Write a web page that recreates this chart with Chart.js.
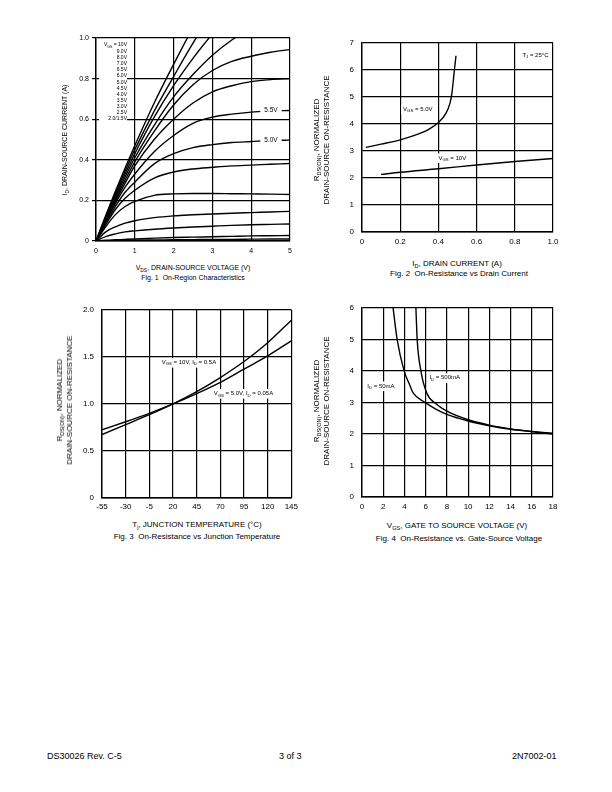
<!DOCTYPE html>
<html>
<head>
<meta charset="utf-8">
<script src="https://cdn.jsdelivr.net/npm/chart.js@4"></script>
<style>
  body { margin: 0; width: 612px; height: 792px; position: relative; background: #fff; color: #000;
         font-family: "Liberation Sans", Arial, sans-serif; }
  canvas { position: absolute; }
  .t { position: absolute; white-space: nowrap; transform: translate(-50%, -50%); font-size: 8px; }
  .v { position: absolute; white-space: nowrap; transform: translate(-50%, -50%) rotate(-90deg);
       font-size: 8px; line-height: 10px; text-align: center; }
  sub { font-size: 70%; vertical-align: -2px; line-height: 0; }
  .legend { position: absolute; left: 99px; top: 41px; width: 28px; height: 84px; background: #fff;
            font-size: 5px; line-height: 6.1px; text-align: right; }
  .foot { position: absolute; top: 751px; font-size: 9px; }
</style>
</head>
<body>

<canvas id="fig1" width="234" height="228" style="left:66px;top:28px"></canvas>
<canvas id="fig2" width="236" height="220" style="left:328px;top:30px"></canvas>
<canvas id="fig3" width="240" height="220" style="left:62px;top:297px"></canvas>
<canvas id="fig4" width="236" height="220" style="left:328px;top:295px"></canvas>

<div class="legend">
  <div style="margin-bottom:1px">V<sub>GS</sub> = 10V</div>
  <div>9.0V</div><div>8.0V</div><div>7.0V</div><div>6.5V</div><div>6.0V</div><div>5.0V</div>
  <div>4.5V</div><div>4.0V</div><div>3.5V</div><div>3.0V</div><div>2.5V</div><div>2.0/1.5V</div>
</div>

<div class="v" style="left:65px;top:140px;font-size:7px">I<sub>D</sub>, DRAIN-SOURCE CURRENT (A)</div>
<div class="t" style="left:193px;top:267px;font-size:7px">V<sub>DS</sub>, DRAIN-SOURCE VOLTAGE (V)</div>
<div class="t" style="left:193px;top:277px;font-size:7px">Fig. 1&nbsp; On-Region Characteristics</div>

<div class="v" style="left:322px;top:140px">R<sub>DS(ON)</sub>, NORMALIZED<br>DRAIN-SOURCE ON-RESISTANCE</div>
<div class="t" style="left:457px;top:263px">I<sub>D</sub>, DRAIN CURRENT (A)</div>
<div class="t" style="left:459px;top:273px">Fig. 2&nbsp; On-Resistance vs Drain Current</div>

<div class="v" style="left:65px;top:400px">R<sub>DS(ON)</sub>, NORMALIZED<br>DRAIN-SOURCE ON-RESISTANCE</div>
<div class="t" style="left:197px;top:524px">T<sub>j</sub>, JUNCTION TEMPERATURE (°C)</div>
<div class="t" style="left:197px;top:536px">Fig. 3&nbsp; On-Resistance vs Junction Temperature</div>

<div class="v" style="left:322px;top:401px">R<sub>DS(ON)</sub>, NORMALIZED<br>DRAIN-SOURCE ON-RESISTANCE</div>
<div class="t" style="left:457px;top:525px">V<sub>GS</sub>, GATE TO SOURCE VOLTAGE (V)</div>
<div class="t" style="left:459px;top:538px">Fig. 4&nbsp; On-Resistance vs. Gate-Source Voltage</div>

<div class="foot" style="left:47px">DS30026 Rev. C-5</div>
<div class="foot" style="left:279px">3 of 3</div>
<div class="foot" style="left:512px">2N7002-01</div>

<script>
// ---- Fig. 1 data: drain current (A) vs VDS (V), one array per gate voltage
const vdsValues = [0, 0.25, 0.5, 0.75, 1, 1.5, 2, 2.5, 3, 3.5, 4, 4.5, 5];
const id10V = [0, 0.125, 0.245, 0.36, 0.47, 0.68, 0.87, 1.05, 1.2, 1.3, 1.4, 1.5, 1.6];
const id9V = [0, 0.12, 0.235, 0.345, 0.45, 0.64, 0.81, 0.975, 1.12, 1.25, 1.35, 1.45, 1.55];
const id8V = [0, 0.115, 0.225, 0.33, 0.43, 0.61, 0.765, 0.9, 1.02, 1.13, 1.23, 1.32, 1.4];
const id7V = [0, 0.11, 0.215, 0.315, 0.41, 0.57, 0.71, 0.82, 0.915, 0.99, 1.05, 1.1, 1.15];
const id65V = [0, 0.105, 0.205, 0.3, 0.39, 0.54, 0.67, 0.77, 0.84, 0.885, 0.91, 0.93, 0.943];
const id6V = [0, 0.1, 0.195, 0.285, 0.37, 0.5, 0.6, 0.68, 0.735, 0.765, 0.785, 0.795, 0.8];
const id55V = [0, 0.095, 0.185, 0.265, 0.33, 0.44, 0.52, 0.58, 0.61, 0.625, 0.635, 0.64, 0.643];
const id5V = [0, 0.088, 0.17, 0.24, 0.29, 0.38, 0.43, 0.46, 0.475, 0.485, 0.49, 0.495, 0.497];
const id45V = [0, 0.08, 0.155, 0.21, 0.25, 0.31, 0.34, 0.355, 0.363, 0.37, 0.374, 0.378, 0.382];
const id4V = [0, 0.07, 0.13, 0.17, 0.195, 0.225, 0.232, 0.234, 0.234, 0.233, 0.232, 0.231, 0.229];
const id35V = [0, 0.045, 0.07, 0.088, 0.1, 0.115, 0.124, 0.129, 0.133, 0.137, 0.14, 0.143, 0.146];
const id3V = [0, 0.022, 0.035, 0.045, 0.05, 0.058, 0.064, 0.069, 0.073, 0.077, 0.08, 0.082, 0.084];
const id25V = [0, 0.004, 0.006, 0.008, 0.01, 0.014, 0.017, 0.019, 0.021, 0.023, 0.025, 0.026, 0.027];
const id2V = [0, 0.001, 0.002, 0.003, 0.004, 0.005, 0.006, 0.007, 0.008, 0.008, 0.009, 0.01, 0.01];
const fig1XTicks = [0, 1, 2, 3, 4, 5];
const fig1YTicks = [0, 0.2, 0.4, 0.6, 0.8, 1.0];

// ---- Fig. 2 data: normalized RDS(on) vs drain current
const idAt5V = [0.02, 0.1, 0.2, 0.3, 0.35, 0.4, 0.44, 0.46, 0.47, 0.483, 0.492];
const rdsAt5V = [3.13, 3.25, 3.41, 3.64, 3.8, 4.05, 4.4, 4.75, 5.1, 5.94, 6.52];
const idAt10V = [0.1, 0.2, 0.4, 0.6, 0.8, 1.0];
const rdsAt10V = [2.13, 2.21, 2.34, 2.48, 2.61, 2.72];
const fig2XTicks = [0, 0.2, 0.4, 0.6, 0.8, 1.0];
const fig2YTicks = [0, 1, 2, 3, 4, 5, 6, 7];

// ---- Fig. 3 data: normalized RDS(on) vs junction temperature
const tempValues = [-55, -30, -5, 20, 45, 70, 95, 120, 145];
const rdsHighCurrent = [0.675, 0.78, 0.885, 1.0, 1.13, 1.28, 1.45, 1.65, 1.89];
const rdsLowCurrent = [0.725, 0.81, 0.9, 1.0, 1.11, 1.23, 1.37, 1.51, 1.67];
const fig3XTicks = [-55, -30, -5, 20, 45, 70, 95, 120, 145];
const fig3YTicks = [0, 0.5, 1.0, 1.5, 2.0];

// ---- Fig. 4 data: normalized RDS(on) vs gate-source voltage
const vgsAt50mA = [2.93, 3.31, 3.97, 4.5, 4.82, 5.93, 7, 8, 10, 12, 14, 16, 18];
const rdsAt50mA = [6.0, 5.0, 4.0, 3.55, 3.3, 3.0, 2.78, 2.62, 2.41, 2.26, 2.15, 2.08, 2.02];
const vgsAt500mA = [5.08, 5.2, 5.55, 6.1, 7, 8, 10, 12, 14, 16, 18];
const rdsAt500mA = [6.0, 5.0, 4.0, 3.3, 2.95, 2.72, 2.45, 2.28, 2.16, 2.07, 2.0];
const fig4XTicks = [0, 2, 4, 6, 8, 10, 12, 14, 16, 18];
const fig4YTicks = [0, 1, 2, 3, 4, 5, 6];

const FONT = '"Liberation Sans", Arial, sans-serif';

const toPoints = (xs, ys) => xs.map((x, i) => ({ x: x, y: ys[i] }));

const curve = (xs, ys) => ({
  data: toPoints(xs, ys),
  borderColor: "#000",
  borderWidth: 1.4,
  pointRadius: 0,
  cubicInterpolationMode: "monotone",
  fill: false,
});

// draws text with subscripts, optionally on a white box
const drawParts = (ctx, parts, x, y, size, align, padX) => {
  const subSize = size * 0.72;
  let w = 0;
  parts.forEach((p) => {
    ctx.font = (p[1] ? subSize : size) + "px " + FONT;
    w += ctx.measureText(p[0]).width;
  });
  let x0 = align === "center" ? x - w / 2 : x;
  ctx.fillStyle = "#fff";
  ctx.fillRect(x0 - padX, y - size * 0.75, w + 2 * padX, size * 1.6);
  ctx.fillStyle = "#000";
  ctx.textAlign = "left";
  ctx.textBaseline = "middle";
  parts.forEach((p) => {
    ctx.font = (p[1] ? subSize : size) + "px " + FONT;
    ctx.fillText(p[0], x0, p[1] ? y + size * 0.3 : y);
    x0 += ctx.measureText(p[0]).width;
  });
};

const notesPlugin = {
  id: "notes",
  afterDatasetsDraw(chart, args, opts) {
    const ctx = chart.ctx;
    ctx.save();
    (opts.items || []).forEach((it) => {
      const px = chart.scales.x.getPixelForValue(it.x);
      const py = chart.scales.y.getPixelForValue(it.y);
      drawParts(ctx, it.parts, px, py, it.size || 6, it.align || "left", it.pad || 2);
    });
    ctx.restore();
  },
};

const makeAxis = (ticks, fmt, fontSize, pad, fitSize, isY, tickLen) => ({
  type: "linear",
  min: ticks[0],
  max: ticks[ticks.length - 1],
  afterBuildTicks: (scale) => {
    scale.ticks = ticks.map((v) => ({ value: v }));
  },
  afterFit: (scale) => {
    if (isY) scale.width = fitSize;
    else scale.height = fitSize;
  },
  grid: {
    color: "#000",
    lineWidth: 1.2,
    drawTicks: tickLen > 0,
    tickLength: tickLen,
  },
  border: { display: true, color: "#000", width: 1.4 },
  ticks: {
    autoSkip: false,
    maxRotation: 0,
    padding: pad,
    color: "#000",
    font: { family: FONT, size: fontSize },
    callback: fmt,
  },
});

const baseOptions = (xAxis, yAxis, padding, notes) => ({
  responsive: false,
  animation: false,
  layout: { padding: padding },
  scales: { x: xAxis, y: yAxis },
  plugins: {
    legend: { display: false },
    tooltip: { enabled: false },
    notes: { items: notes },
  },
});

const oneDecimal = (v) => (v === 0 ? "0" : v.toFixed(1));
const plain = (v) => String(v);

// Fig. 1
const fig1Curves = [id10V, id9V, id8V, id7V, id65V, id6V, id55V, id5V, id45V, id4V, id35V, id3V, id25V, id2V];
new Chart(document.getElementById("fig1"), {
  type: "line",
  data: { datasets: fig1Curves.map((ys) => curve(vdsValues, ys)) },
  options: baseOptions(
    makeAxis(fig1XTicks, plain, 7, 6, 15, false, 0),
    makeAxis(fig1YTicks, oneDecimal, 7, 3, 30, true, 4),
    { left: 0, top: 10, right: 10, bottom: 0 },
    [
      { x: 4.51, y: 0.642, parts: [["5.5V", 0]], size: 6.5, align: "center", pad: 4 },
      { x: 4.51, y: 0.497, parts: [["5.0V", 0]], size: 6.5, align: "center", pad: 4 },
    ]
  ),
  plugins: [notesPlugin],
});

// Fig. 2
new Chart(document.getElementById("fig2"), {
  type: "line",
  data: { datasets: [curve(idAt5V, rdsAt5V), curve(idAt10V, rdsAt10V)] },
  options: baseOptions(
    makeAxis(fig2XTicks, oneDecimal, 8, 5, 18, false, 0),
    makeAxis(fig2YTicks, plain, 8, 8, 34, true, 0),
    { left: 0, top: 11, right: 11, bottom: 0 },
    [
      { x: 0.215, y: 4.55, parts: [["V", 0], ["GS", 1], [" = 5.0V", 0]] },
      { x: 0.4, y: 2.74, parts: [["V", 0], ["GS", 1], [" = 10V", 0]] },
      { x: 0.84, y: 6.55, parts: [["T", 0], ["J", 1], [" = 25°C", 0]] },
    ]
  ),
  plugins: [notesPlugin],
});

// Fig. 3
new Chart(document.getElementById("fig3"), {
  type: "line",
  data: { datasets: [curve(tempValues, rdsHighCurrent), curve(tempValues, rdsLowCurrent)] },
  options: baseOptions(
    makeAxis(fig3XTicks, plain, 8, 4, 19, false, 0),
    makeAxis(fig3YTicks, oneDecimal, 8, 8, 40, true, 0),
    { left: 0, top: 10, right: 10, bottom: 0 },
    [
      { x: 8, y: 1.44, parts: [["V", 0], ["GS", 1], [" = 10V, I", 0], ["D", 1], [" = 0.5A", 0]] },
      { x: 63, y: 1.11, parts: [["V", 0], ["GS", 1], [" = 5.0V, I", 0], ["D", 1], [" = 0.05A", 0]] },
    ]
  ),
  plugins: [notesPlugin],
});

// Fig. 4
new Chart(document.getElementById("fig4"), {
  type: "line",
  data: { datasets: [curve(vgsAt50mA, rdsAt50mA), curve(vgsAt500mA, rdsAt500mA)] },
  options: baseOptions(
    makeAxis(fig4XTicks, plain, 8, 5, 18, false, 0),
    makeAxis(fig4YTicks, plain, 8, 8, 34, true, 0),
    { left: 0, top: 10, right: 11, bottom: 0 },
    [
      { x: 0.5, y: 3.52, parts: [["I", 0], ["D", 1], [" = 50mA", 0]] },
      { x: 6.35, y: 3.78, parts: [["I", 0], ["D", 1], [" = 500mA", 0]] },
    ]
  ),
  plugins: [notesPlugin],
});
</script>
</body>
</html>
